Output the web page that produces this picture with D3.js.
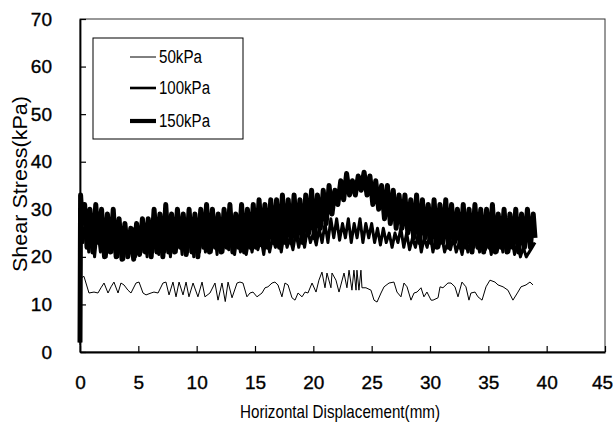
<!DOCTYPE html>
<html>
<head>
<meta charset="utf-8">
<script src="https://cdn.jsdelivr.net/npm/d3@7"></script>
<style>
  body { margin: 0; background: #fff; }
  svg text { font-family: "Liberation Sans", Arial, sans-serif; fill: #000; }
</style>
</head>
<body>
<div id="chart"></div>
<script>
// Shear stress vs horizontal displacement as [mm, kPa]
const series50 = [
  [0, 1.5], [0.05, 15.5], [0.34, 15.9], [0.77, 12.4], [1.2, 12.6], [1.54, 12.4], [1.8, 13.5], [2.06, 14.5],
  [2.4, 12.4], [2.66, 13.7], [2.91, 14.7], [3.26, 12.4], [3.51, 14.5], [3.77, 14.1], [4.11, 13.0], [4.37, 12.4],
  [4.8, 14.5], [5.06, 14.7], [5.4, 12.4], [5.66, 12.0], [6.09, 12.4], [6.34, 12.6], [6.69, 12.4], [7.11, 14.5],
  [7.37, 14.7], [7.63, 12.0], [7.97, 14.7], [8.23, 11.6], [8.49, 14.7], [8.83, 12.0], [9.09, 14.7], [9.34, 11.6],
  [9.69, 14.5], [10.11, 11.6], [10.46, 14.7], [10.71, 11.6], [11.14, 12.4], [11.57, 14.5], [11.83, 10.9], [12.17, 14.5],
  [12.45, 10.6], [12.69, 14.7], [13.03, 11.4], [13.46, 14.5], [13.71, 14.7], [13.97, 14.5], [14.31, 11.6], [14.57, 12.4],
  [14.83, 12.6], [15.17, 11.6], [15.6, 12.4], [15.86, 13.5], [16.11, 13.7], [16.46, 14.5], [16.71, 14.7], [16.97, 14.1],
  [17.31, 11.6], [17.57, 14.5], [17.83, 14.1], [18.17, 11.4], [18.43, 10.9], [18.69, 12.4], [19.03, 11.6], [19.29, 12.6],
  [19.54, 12.4], [19.89, 14.5], [20.23, 12.6], [20.48, 15.1], [20.74, 16.8], [21.0, 13.5], [21.17, 16.6], [21.51, 13.5],
  [21.6, 16.6], [21.94, 15.1], [22.2, 12.6], [22.63, 16.6], [22.88, 13.5], [23.06, 17.2], [23.31, 13.0], [23.48, 17.2],
  [23.66, 13.0], [23.74, 17.2], [23.91, 13.0], [24.08, 17.2], [24.17, 13.5], [24.51, 13.5], [24.94, 13.0], [25.2, 10.9],
  [25.46, 10.5], [25.8, 12.4], [26.06, 13.7], [26.49, 14.5], [26.91, 14.7], [27.17, 12.6], [27.51, 11.6], [27.77, 14.5],
  [28.03, 13.7], [28.37, 10.9], [28.63, 12.4], [28.89, 12.6], [29.23, 13.5], [29.48, 11.6], [29.74, 12.6], [30.09, 10.9],
  [30.26, 10.9], [30.69, 11.4], [30.86, 13.7], [31.11, 13.5], [31.54, 14.5], [31.8, 14.5], [32.14, 13.7], [32.4, 11.6],
  [32.74, 14.7], [33.08, 13.7], [33.34, 10.9], [33.51, 12.4], [33.86, 12.6], [34.11, 11.6], [34.46, 10.9], [34.8, 13.7],
  [35.14, 15.1], [35.57, 14.7], [35.83, 14.1], [36.26, 13.7], [36.68, 13.0], [37.11, 10.9], [37.54, 12.6], [37.8, 13.7],
  [38.23, 14.1], [38.57, 14.7], [38.83, 14.1]
];

const series100 = [
  [0, 2], [0.05, 30], [0.25, 23], [0.5, 28], [0.75, 21], [1.0, 27], [1.25, 20], [1.5, 26], [1.75, 21], [2.0, 27],
  [2.25, 20], [2.5, 26], [2.75, 21], [3.0, 25], [3.25, 20], [3.5, 26], [3.75, 19.5], [4.0, 25], [4.25, 21], [4.5, 26],
  [4.75, 20], [5.0, 25], [5.25, 21], [5.5, 27], [5.75, 20], [6.0, 26], [6.25, 21], [6.5, 27], [6.75, 20.5], [7.0, 26],
  [7.25, 21], [7.5, 27], [7.75, 20], [8.0, 26], [8.25, 21], [8.5, 27], [8.75, 20.5], [9.0, 26], [9.25, 21], [9.5, 27],
  [9.75, 20], [10.0, 26], [10.25, 21], [10.5, 27], [10.75, 21], [11.0, 26], [11.25, 21], [11.5, 26], [11.75, 20.5], [12.0, 27],
  [12.25, 21], [12.5, 26], [12.75, 21.5], [13.0, 26], [13.25, 20.5], [13.5, 25], [13.75, 21], [14.0, 25], [14.25, 20.5], [14.5, 24],
  [14.75, 21], [15.0, 25], [15.25, 21.5], [15.5, 24], [15.75, 20.5], [16.0, 25], [16.25, 21], [16.5, 24], [16.75, 22], [17.0, 25],
  [17.25, 21], [17.5, 25], [17.75, 22], [18.0, 24], [18.25, 21.5], [18.5, 25], [18.75, 22], [19.0, 25], [19.25, 22], [19.5, 26],
  [19.75, 23], [20.0, 25], [20.25, 22.5], [20.5, 26], [20.75, 23], [21.0, 27], [21.25, 23], [21.5, 28], [21.75, 24], [22.0, 28],
  [22.25, 23.5], [22.5, 27], [22.75, 24], [23.0, 28], [23.25, 23], [23.5, 27], [23.75, 24], [24.0, 28], [24.25, 23], [24.5, 27],
  [24.75, 24], [25.0, 27], [25.25, 23], [25.5, 26], [25.75, 22.5], [26.0, 26], [26.25, 23], [26.5, 25], [26.75, 22], [27.0, 25],
  [27.25, 23], [27.5, 26], [27.75, 22], [28.0, 25], [28.25, 21.5], [28.5, 24], [28.75, 22], [29.0, 25], [29.25, 21], [29.5, 24],
  [29.75, 22], [30.0, 25], [30.25, 21], [30.5, 24], [30.75, 22], [31.0, 24.5], [31.25, 21], [31.5, 23], [31.75, 21.5], [32.0, 24],
  [32.25, 21], [32.5, 23], [32.75, 20.5], [33.0, 24], [33.25, 21], [33.5, 23.5], [33.75, 22], [34.0, 24], [34.25, 21], [34.5, 25],
  [34.75, 21.5], [35.0, 24], [35.25, 20.5], [35.5, 25], [35.75, 21], [36.0, 24], [36.25, 21], [36.5, 25], [36.75, 21], [37.0, 24],
  [37.25, 20.5], [37.5, 23], [37.75, 20], [38.0, 22], [38.25, 20], [38.5, 21], [38.75, 22], [39.0, 23]
];

const series150 = [
  [0, 2], [0.05, 33], [0.2, 27], [0.4, 31], [0.6, 22], [0.85, 30], [1.1, 21], [1.35, 31], [1.6, 23], [1.85, 30],
  [2.1, 20], [2.35, 29], [2.6, 21], [2.85, 30], [3.1, 20], [3.35, 28], [3.6, 19.5], [3.85, 27], [4.1, 20], [4.35, 26],
  [4.6, 19.5], [4.85, 27], [5.1, 20.5], [5.35, 28], [5.6, 21], [5.85, 28], [6.1, 20], [6.35, 30], [6.6, 21], [6.85, 29],
  [7.1, 20], [7.35, 31], [7.6, 21], [7.85, 29], [8.1, 21], [8.35, 30], [8.6, 22], [8.85, 29], [9.1, 20.5], [9.35, 30],
  [9.6, 21], [9.85, 29], [10.1, 20], [10.35, 30], [10.6, 22], [10.85, 31], [11.1, 21], [11.35, 30], [11.6, 22], [11.85, 29],
  [12.1, 21], [12.35, 30], [12.6, 22], [12.85, 31], [13.1, 21], [13.35, 29], [13.6, 22], [13.85, 31], [14.1, 21], [14.35, 30],
  [14.6, 22], [14.85, 31], [15.1, 22], [15.35, 32], [15.6, 22.5], [15.85, 31], [16.1, 22], [16.35, 32], [16.6, 23], [16.85, 32],
  [17.1, 22], [17.35, 33], [17.6, 23], [17.85, 32], [18.1, 23], [18.35, 33], [18.6, 24], [18.85, 32], [19.1, 23], [19.35, 33],
  [19.6, 25], [19.85, 34], [20.1, 24], [20.35, 33], [20.6, 26], [20.85, 34], [21.1, 27], [21.35, 35], [21.6, 29], [21.85, 34],
  [22.1, 31], [22.35, 36], [22.6, 32], [22.85, 37.5], [23.1, 33], [23.35, 36], [23.6, 33], [23.85, 37], [24.1, 34], [24.35, 37.8],
  [24.6, 33], [24.85, 37], [25.1, 31], [25.35, 36], [25.6, 30], [25.85, 35], [26.1, 28], [26.35, 35], [26.6, 27], [26.85, 34],
  [27.1, 26], [27.35, 33], [27.6, 26], [27.85, 33], [28.1, 25], [28.35, 32], [28.6, 24], [28.85, 33], [29.1, 23], [29.35, 32],
  [29.6, 24], [29.85, 31], [30.1, 23], [30.35, 32], [30.6, 22], [30.85, 31], [31.1, 23], [31.35, 32], [31.6, 22], [31.85, 31],
  [32.1, 23], [32.35, 30], [32.6, 22], [32.85, 31], [33.1, 22], [33.35, 30], [33.6, 21], [33.85, 31], [34.1, 22], [34.35, 30],
  [34.6, 21], [34.85, 30], [35.1, 22], [35.35, 31], [35.6, 21], [35.85, 29], [36.1, 22], [36.35, 30], [36.6, 21], [36.85, 29],
  [37.1, 22], [37.35, 30], [37.6, 21], [37.85, 29], [38.1, 22], [38.35, 30], [38.6, 22], [38.85, 29], [39.0, 24]
];

const xTicks = [0, 5, 10, 15, 20, 25, 30, 35, 40, 45];
const yTicks = [0, 10, 20, 30, 40, 50, 60, 70];
const legendLabels = ['50kPa', '100kPa', '150kPa'];

// Layout
const width = 613;
const height = 429;
const margin = { top: 19, right: 8, bottom: 77, left: 80 };
const innerW = width - margin.left - margin.right;
const innerH = height - margin.top - margin.bottom;

const svg = d3.select('#chart')
  .append('svg')
  .attr('width', width)
  .attr('height', height);

const g = svg.append('g')
  .attr('transform', `translate(${margin.left},${margin.top})`);

const xScale = d3.scaleLinear().domain([0, 45]).range([0, innerW]);
const yScale = d3.scaleLinear().domain([0, 70]).range([innerH, 0]);

// Plot frame
g.append('rect')
  .attr('width', innerW)
  .attr('height', innerH)
  .attr('fill', 'none')
  .attr('stroke', '#333')
  .attr('stroke-width', 1);

// Axes with inward ticks
const xAxis = g.append('g')
  .attr('transform', `translate(0,${innerH})`)
  .call(d3.axisBottom(xScale).tickValues(xTicks).tickSizeInner(-6).tickSizeOuter(0).tickPadding(24));

const yAxis = g.append('g')
  .call(d3.axisLeft(yScale).tickValues(yTicks).tickSizeInner(-6).tickSizeOuter(0).tickPadding(28));

[xAxis, yAxis].forEach(ax => {
  ax.select('.domain').attr('stroke', '#000').attr('stroke-width', 1.8);
  ax.selectAll('.tick line').attr('stroke', '#000').attr('stroke-width', 1.2);
  ax.selectAll('.tick text')
    .style('font-size', '19px')
    .style('stroke', '#000')
    .style('stroke-width', 0.35);
});
// keep the last x label inside the window
xAxis.selectAll('.tick text').filter(d => d === 45).attr('dx', -3);

// Lines
const line = d3.line()
  .x(d => xScale(d[0]))
  .y(d => yScale(d[1]));

const seriesList = [
  { data: series50, width: 1 },
  { data: series100, width: 3 },
  { data: series150, width: 5 }
];

seriesList.forEach(s => {
  g.append('path')
    .datum(s.data)
    .attr('fill', 'none')
    .attr('stroke', '#000')
    .attr('stroke-width', s.width)
    .attr('stroke-linejoin', 'round')
    .attr('d', line);
});

// Legend
const legend = svg.append('g').attr('transform', 'translate(93,38)');
legend.append('rect')
  .attr('width', 150)
  .attr('height', 101)
  .attr('fill', '#fff')
  .attr('stroke', '#000')
  .attr('stroke-width', 1);

const legendY = [19, 50, 83];
const legendW = [43, 51, 51];
legendLabels.forEach((lab, i) => {
  legend.append('line')
    .attr('x1', 37).attr('x2', 63)
    .attr('y1', legendY[i]).attr('y2', legendY[i])
    .attr('stroke', '#000')
    .attr('stroke-width', [1, 2.6, 4.2][i]);
  legend.append('text')
    .attr('x', 66)
    .attr('y', legendY[i] + 6)
    .attr('textLength', legendW[i])
    .attr('lengthAdjust', 'spacingAndGlyphs')
    .style('font-size', '18px')
    .text(lab);
});

// Axis titles
svg.append('text')
  .attr('x', 340)
  .attr('y', 418)
  .attr('text-anchor', 'middle')
  .attr('textLength', 200)
  .attr('lengthAdjust', 'spacingAndGlyphs')
  .style('font-size', '19px')
  .text('Horizontal Displacement(mm)');

svg.append('text')
  .attr('transform', 'translate(27,184) rotate(-90)')
  .attr('text-anchor', 'middle')
  .attr('textLength', 176)
  .attr('lengthAdjust', 'spacingAndGlyphs')
  .style('font-size', '20px')
  .text('Shear Stress(kPa)');
</script>
</body>
</html>
